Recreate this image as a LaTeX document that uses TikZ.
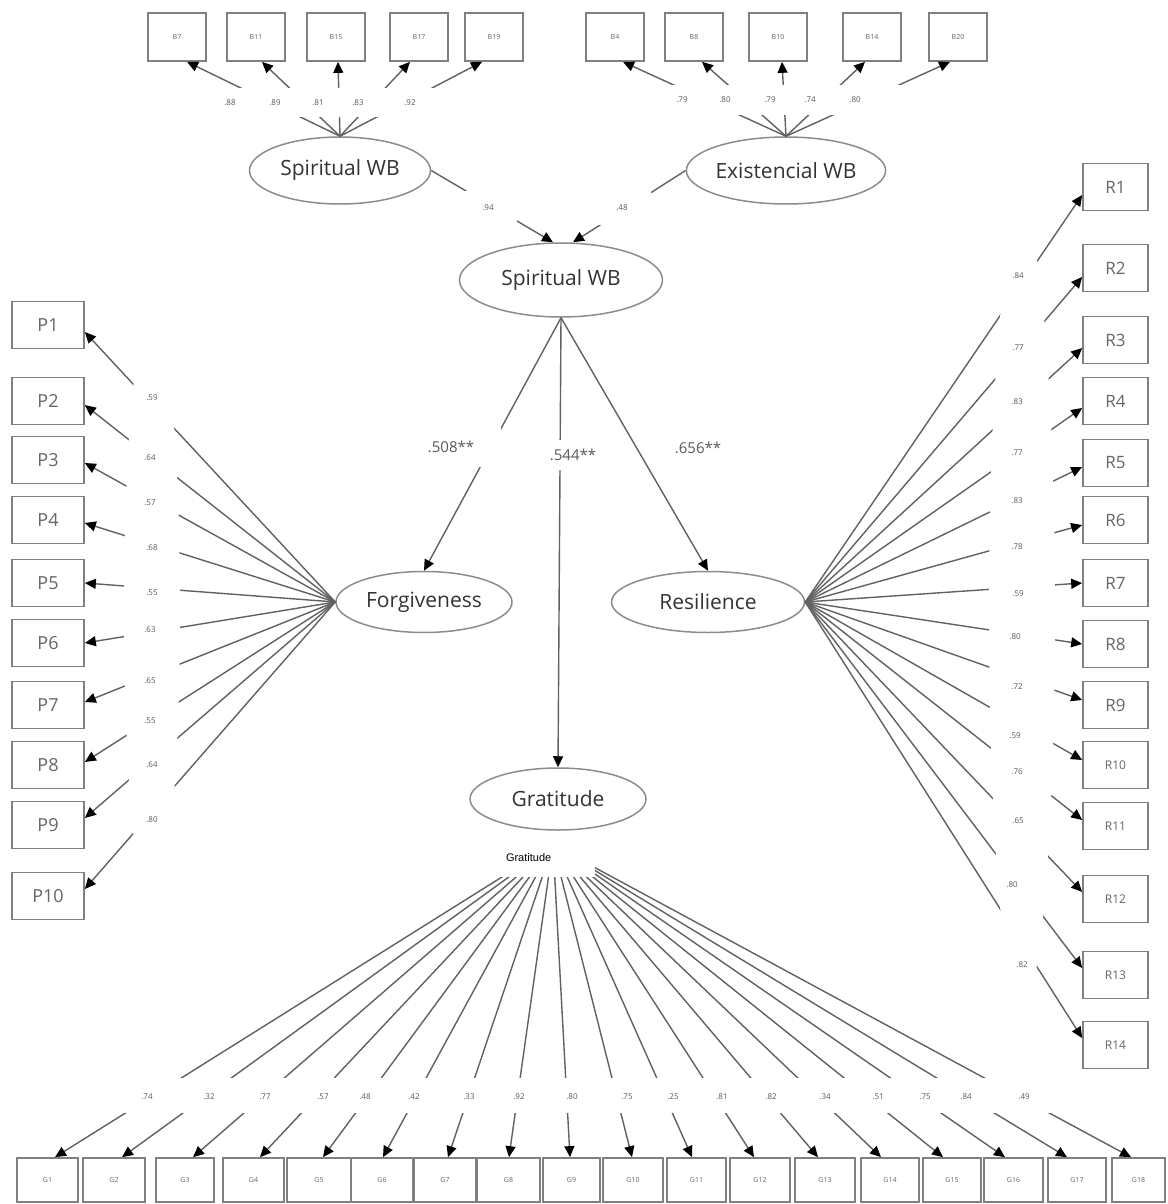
\documentclass[tikz,border=0pt]{standalone}
\usepackage{fontspec}
\setmainfont{Open Sans}
\newfontfamily\arialf{Liberation Sans}
\usetikzlibrary{arrows.meta,shapes.geometric}
\tikzset{
  lat/.style={ellipse, draw=black!45, line width=1.5pt, inner sep=0pt, text=black!80, font=\fontsize{21}{25}\selectfont},
  obs/.style={rectangle, draw=black!50, line width=1.7pt, inner sep=0pt, fill=white, text=black!60},
  tbox/.style={obs, minimum width=58, minimum height=48, font=\fontsize{7}{8}\selectfont},
  pbox/.style={obs, minimum width=72, minimum height=47, font=\fontsize{18}{20}\selectfont},
  rbox/.style={obs, minimum width=65, minimum height=47, font=\fontsize{17}{19}\selectfont},
  rsbox/.style={rbox, font=\fontsize{12}{14}\selectfont},
  gbox/.style={obs, minimum height=44, font=\fontsize{7}{8}\selectfont},
  ld/.style={font=\fontsize{8}{9}\selectfont, text=black!65, inner sep=1pt},
  pl/.style={font=\fontsize{15}{17}\selectfont, text=black!65, inner sep=1pt},
  ln/.style={draw=black!62, line width=1.4pt, -{Triangle[length=11pt,width=10pt,color=black]}},
}
\begin{document}
\begin{tikzpicture}[x=1pt,y=-1pt]
\fill[white] (0,0) rectangle (1167,1204);
\useasboundingbox (0,0) rectangle (1167,1204);

% latent variables
\node[lat, minimum width=181, minimum height=67] (SWB1) at (340,170.5) {Spiritual WB};
\node[lat, minimum width=172, minimum height=67] (EWB) at (786,170.5) {Existencial WB};
\node[lat, minimum width=203, minimum height=74] (SWB) at (561,280) {Spiritual WB};
\node[lat, minimum width=176, minimum height=61] (FOR) at (424,602) {Forgiveness};
\node[lat, minimum width=193, minimum height=61] (RES) at (708,602) {Resilience};
\node[lat, minimum width=176, minimum height=62] (GRA) at (558,799) {Gratitude};

% top indicators
\foreach \n/\x in {B7/177,B11/256,B15/336,B17/419,B19/494,B4/615,B8/694,B10/778,B14/872,B20/958}
  \node[tbox] (\n) at (\x,37) {\n};

% P indicators
\foreach \i/\y in {1/325,2/401,3/460,4/520,5/583,6/643,7/705,8/765,9/825,10/896}
  \node[pbox] (P\i) at (48,\y) {P\i};

% R indicators
\foreach \i/\y in {1/187,2/268,3/340,4/401,5/463,6/520,7/583,8/644,9/705}
  \node[rbox] (R\i) at (1115.5,\y) {R\i};
\foreach \i/\y in {10/765,11/826,12/899,13/975,14/1045}
  \node[rsbox] (R\i) at (1115.5,\y) {R\i};

% G indicators
\foreach \i/\a/\b in {1/17/78,2/83/145,3/156/214,4/223/284,5/287/351,6/351/413,7/414/476,8/477/540,9/543/600,10/603/663,11/667/726,12/730/790,13/795/855,14/861/919,15/923/981,16/984/1043,17/1048/1106,18/1112/1165}
  \node[gbox, minimum width=\b-\a] (G\i) at ({(\a+\b)/2},1180) {G\i};

\coordinate (gsrc) at (553,845);

% connectors
\foreach \n/\s in {B7/10,B11/6,B15/2,B17/-9,B19/-12}
  \draw[ln] (SWB1.north) -- ([xshift=\s pt]\n.south);
\foreach \n/\s in {B4/8,B8/8,B10/4,B14/-7,B20/-8}
  \draw[ln] (EWB.north) -- ([xshift=\s pt]\n.south);
\draw[ln] (SWB1.east) -- ([xshift=-8pt]SWB.north);
\draw[ln] (EWB.west) -- ([xshift=12pt]SWB.north);
\draw[ln] (SWB.south) -- (FOR.north);
\draw[ln] (SWB.south) -- (GRA.north);
\draw[ln] (SWB.south) -- (RES.north);
\foreach \i/\s in {1/-7,2/-4,3/-3,4/-3,5/0,6/0,7/3,8/3,9/7,10/7}
  \draw[ln] (FOR.west) -- ([yshift=\s pt]P\i.east);
\foreach \i/\s in {1/-8,2/-9,3/-8,4/-7,5/-4,6/-5,7/0,8/0,9/5,10/5,11/6,12/7,13/7,14/7}
  \draw[ln] (RES.east) -- ([yshift=\s pt]R\i.west);
\foreach \i/\s in {1/7.5,2/8,3/8,4/6.5,5/4,6/1,7/3,8/0.5,9/-1.5,10/-1,11/-4.5,12/-6,13/-7,14/-9,15/-9,16/-8.5,17/-10,18/-7.5}
  \draw[ln] (gsrc) -- ([xshift=\s pt]G\i.north);

% white gaps behind the loading labels
\fill[white] (215,88) rectangle (440,117);
\fill[white] (650,85) rectangle (905,115);
\fill[white] (152,610) ellipse [x radius=28, y radius=300];
\fill[white] (1022,612) ellipse [x radius=33, y radius=395];
\fill[white] (100,1078) rectangle (1070,1113);

% loading labels
\foreach \i/\x/\t in {1/230/.88,2/275/.89,3/318/.81,4/358/.83,5/410/.92}
  \node[ld] (lt\i) at (\x,103) {\t};
\foreach \i/\x/\t in {1/682/.79,2/725/.80,3/770/.79,4/810/.74,5/855/.80}
  \node[ld] (le\i) at (\x,100) {\t};
\node[ld, fill=white, minimum width=58, minimum height=34] (l94) at (488,208) {.94};
\node[ld, fill=white, minimum width=58, minimum height=34] (l48) at (622,208) {.48};
\foreach \i/\x/\y/\t in {1/152/398/.59,2/150/458/.64,3/150/503/.57,4/152/548/.68,5/152/593/.55,6/150/630/.63,7/150/681/.65,8/150/721/.55,9/152/765/.64,10/152/820/.80}
  \node[ld] (lp\i) at (\x,\y) {\t};
\foreach \i/\x/\y/\t in {1/1018/276/.84,2/1018/348/.77,3/1017/402/.83,4/1017/453/.77,5/1017/501/.83,6/1017/547/.78,7/1018/594/.59,8/1015/637/.80,9/1017/687/.72,10/1015/736/.59,11/1017/772/.76,12/1018/821/.65,13/1012/885/.80,14/1022/965/.82}
  \node[ld] (lr\i) at (\x,\y) {\t};
\foreach \i/\x/\t in {1/147/.74,2/209/.32,3/265/.77,4/323/.57,5/365/.48,6/414/.42,7/469/.33,8/519/.92,9/572/.80,10/627/.75,11/673/.25,12/722/.81,13/771/.82,14/825/.34,15/878/.51,16/925/.75,17/966/.84,18/1024/.49}
  \node[ld] (lg\i) at (\x,1097) {\t};

% structural path labels
\node[pl, fill=white, minimum width=100, minimum height=40] (p508) at (451,447) {.508**};
\node[pl, fill=white, minimum height=30] (p544) at (573,455) {.544**};
\node[pl] (p656) at (698,448) {.656**};

% white caption box over the fan origin
\node[fill=white, minimum width=98, minimum height=39, text width=80, align=left, inner sep=0pt, font=\arialf\fontsize{11}{13}\selectfont] (gcap) at (546,857.5) {Gratitude};
\end{tikzpicture}
\end{document}
